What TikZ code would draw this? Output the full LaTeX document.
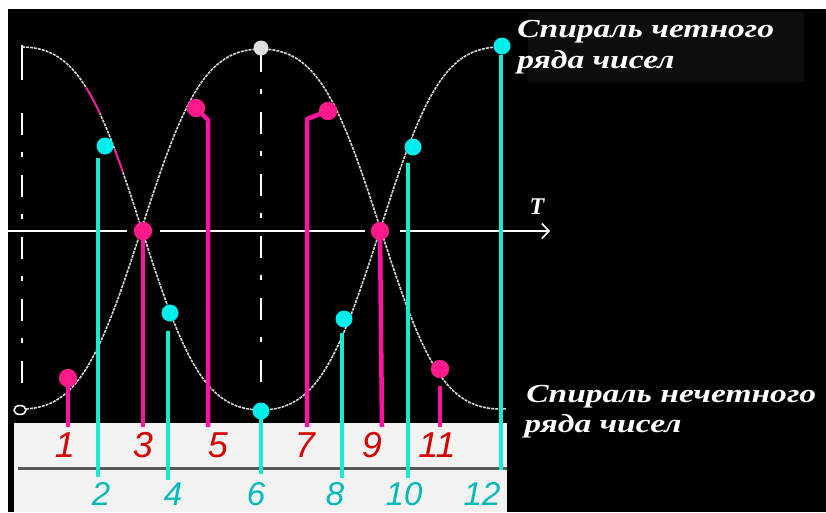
\documentclass[tikz,border=0pt]{standalone}
\usepackage{fontspec}
\setmainfont{Liberation Sans}
\newfontfamily\capfont{Liberation Serif}
\usetikzlibrary{arrows.meta,shapes.geometric}
\definecolor{mag}{RGB}{255,26,140}
\definecolor{magstem}{RGB}{255,20,160}
\definecolor{cyanm}{RGB}{0,238,238}
\definecolor{cyanstem}{RGB}{25,235,210}
\definecolor{redlab}{RGB}{215,0,0}
\definecolor{cyanlab}{RGB}{0,185,185}
\definecolor{panelc}{RGB}{242,242,242}
\definecolor{curvec}{RGB}{215,215,215}
\definecolor{boxc}{RGB}{14,14,14}
\begin{document}
\begin{tikzpicture}[x=1pt,y=-1pt,
  declare function={sh(\t)=cos(\t)*(1.3-0.3*cos(\t)*cos(\t));
    evenc(\u)=228.5-181.5*sh(0.753138*(\u-22));
    oddc(\u)=229+180*sh(0.753138*(\u-22));},
  curve/.style={curvec, line width=1.6pt, dash pattern=on 3pt off 1pt},
  magcurve/.style={magstem, line width=1.8pt},
  dashdot/.style={white, line width=1.8pt, dash pattern=on 22pt off 17pt on 5pt off 18pt},
  magdot/.style={circle, fill=mag, minimum size=18pt, inner sep=0pt},
  cydot/.style={circle, fill=cyanm, minimum size=17pt, inner sep=0pt},
  magst/.style={magstem, line width=4.5pt},
  cyst/.style={cyanstem, line width=3.5pt},
  oddlab/.style={text=redlab, font=\fontsize{36}{36}\selectfont\itshape, inner sep=0pt},
  evenlab/.style={text=cyanlab, font=\fontsize{33}{33}\selectfont\itshape, inner sep=0pt},
  caption/.style={text=white, font=\capfont\fontsize{26}{26}\selectfont\bfseries\itshape, inner sep=0pt, anchor=base west, xscale=1.29}
]
\useasboundingbox (0,0) rectangle (826,512);
\fill[white] (0,0) rectangle (826,512);
\fill[black] (8,9) rectangle (826,512);
\fill[boxc] (528,12) rectangle (804,82);
% panel
\fill[panelc] (14,423) rectangle (507,512);
\coordinate (hl) at (18,468);
\coordinate (hr) at (507,468);
\draw[line width=3pt, black!65] (hl) -- (hr);
% dash-dot verticals
\coordinate (v1a) at (22,45);
\coordinate (v1b) at (22,80);
\coordinate (v1c) at (22,113);
\coordinate (v1d) at (22,400);
\draw[white, line width=1.8pt] (v1a) -- (v1b);
\draw[dashdot] (v1c) -- (v1d);
\coordinate (v2a) at (261,50);
\coordinate (v2b) at (261,385);
\draw[dashdot] (v2a) -- (v2b);
\node[draw=white, line width=1.5pt, ellipse, minimum width=12pt, minimum height=9pt, inner sep=0pt] (o0) at (20,410) {};
% curves
\draw[curve] plot[domain=22:503, samples=81, smooth] (\x, {evenc(\x)});
\draw[curve] plot[domain=26:506, samples=81, smooth] (\x, {oddc(\x)});
\draw[magcurve] plot[domain=86:100, samples=5, smooth] (\x, {evenc(\x)});
\draw[magcurve] plot[domain=115:123, samples=5, smooth] (\x, {evenc(\x)});
% axis
\coordinate (a0) at (8,231);
\coordinate (a1) at (127,231);
\coordinate (a2) at (160,231);
\coordinate (a3) at (365,231);
\coordinate (a4) at (400,231);
\coordinate (a5) at (550,231);
\draw[white, line width=1.8pt] (a0) -- (a1) (a2) -- (a3);
\draw[white, line width=1.8pt, -{Straight Barb[length=7pt,width=15pt,line width=1.6pt]}] (a4) -- (a5);
\node[text=white, font=\capfont\fontsize{24}{24}\selectfont\bfseries\itshape, inner sep=0pt] (T) at (537,207) {T};
% top white dot
\node[circle, fill=white!88!black, minimum size=15pt, inner sep=0pt] (top) at (261,48) {};
% coordinates for stems
\coordinate (k5) at (208,120);
\coordinate (b5) at (208,427);
\coordinate (k7) at (307,119);
\coordinate (b7) at (307,427);
\coordinate (b1) at (68,427);
\coordinate (b3) at (143,427);
\coordinate (b9) at (382,427);
\coordinate (t11) at (440,386);
\coordinate (b11) at (440,427);
\coordinate (s2t) at (98,158);
\coordinate (s2b) at (98,477);
\coordinate (s4t) at (168,331);
\coordinate (s4b) at (168,480);
\coordinate (s6t) at (261,415);
\coordinate (s6b) at (261,474);
\coordinate (s8t) at (342,333);
\coordinate (s8b) at (342,478);
\coordinate (s10t) at (408,163);
\coordinate (s10b) at (408,478);
\coordinate (s12t) at (501,55);
\coordinate (s12b) at (501,470);
% markers
\node[magdot] (p1) at (68,378) {};
\node[magdot] (p3) at (143,231) {};
\node[magdot] (p5) at (196,108) {};
\node[magdot] (p7) at (328,111) {};
\node[magdot] (p9) at (380,231) {};
\node[magdot] (p11) at (440,369) {};
% stems (odd)
\draw[magst] (p1.center) -- (b1);
\draw[magst] (p3.center) -- (b3);
\draw[magst, line join=round] (p5.center) -- (k5) -- (b5);
\draw[magst, line join=round] (p7.center) -- (k7) -- (b7);
\draw[magst] (p9.center) -- (b9);
\draw[magst] (t11) -- (b11);
% stems (even)
\draw[cyst] (s2t) -- (s2b);
\draw[cyst] (s4t) -- (s4b);
\draw[cyst] (s6t) -- (s6b);
\draw[cyst] (s8t) -- (s8b);
\draw[cyst] (s10t) -- (s10b);
\draw[cyst] (s12t) -- (s12b);
% redraw markers on top
\node[magdot] at (p1) {};
\node[magdot] at (p3) {};
\node[magdot] at (p5) {};
\node[magdot] at (p7) {};
\node[magdot] at (p9) {};
\node[magdot] at (p11) {};
\node[cydot] (c2) at (105,146) {};
\node[cydot] (c4) at (170,313) {};
\node[cydot] (c6) at (261,411) {};
\node[cydot] (c8) at (344,319) {};
\node[cydot] (c10) at (413,147) {};
\node[cydot] (c12) at (502,46) {};
% labels
\node[oddlab] (l1) at (65,445) {1};
\node[oddlab] (l3) at (143,445) {3};
\node[oddlab] (l5) at (218,445) {5};
\node[oddlab] (l7) at (305,445) {7};
\node[oddlab] (l9) at (372,445) {9};
\node[oddlab] (l11) at (437,445) {11};
\node[evenlab] (l2) at (101,494) {2};
\node[evenlab] (l4) at (173,494) {4};
\node[evenlab] (l6) at (256,494) {6};
\node[evenlab] (l8) at (335,494) {8};
\node[evenlab] (l10) at (404,494) {10};
\node[evenlab] (l12) at (482,494) {12};
% captions
\node[caption] (e1) at (517,37) {Спираль четного};
\node[caption] (e2) at (517,68) {ряда чисел};
\node[caption] (o1) at (526,402) {Спираль нечетного};
\node[caption] (o2) at (524,432) {ряда чисел};
\end{tikzpicture}
\end{document}
